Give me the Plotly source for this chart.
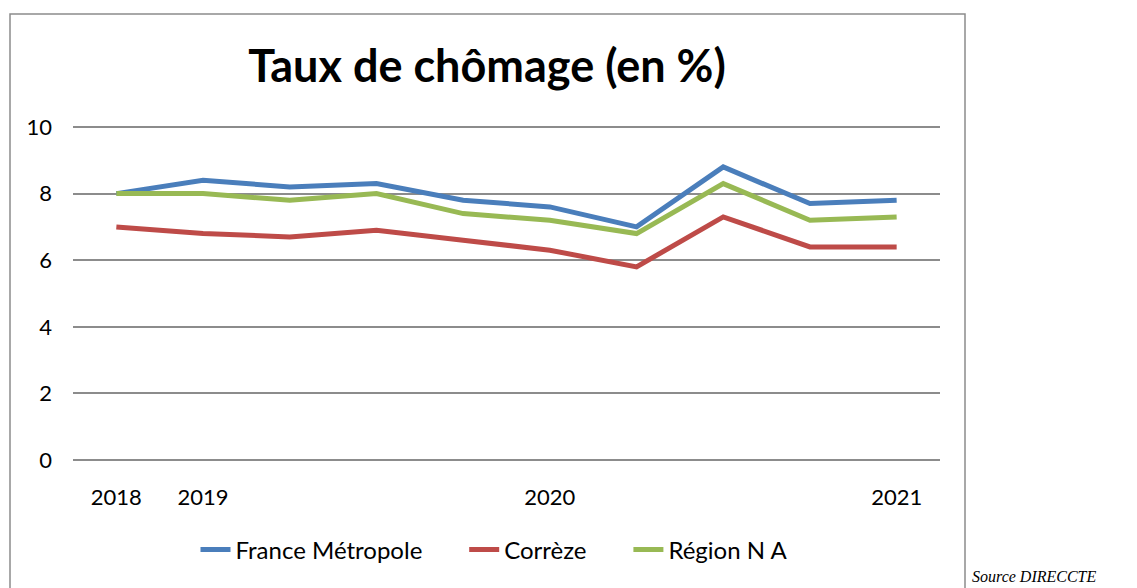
import plotly.graph_objects as go

categories = ["2018", "2019", "", "", "", "2020", "", "", "", "2021"]
france = [8.0, 8.4, 8.2, 8.3, 7.8, 7.6, 7.0, 8.8, 7.7, 7.8]
correze = [7.0, 6.8, 6.7, 6.9, 6.6, 6.3, 5.8, 7.3, 6.4, 6.4]
region = [8.0, 8.0, 7.8, 8.0, 7.4, 7.2, 6.8, 8.3, 7.2, 7.3]
series_names = ["France Métropole", "Corrèze", "Région N A"]
colors = ["#4A7EBB", "#BE4B48", "#98B954"]
y_ticks = [0, 2, 4, 6, 8, 10]

# page body has an 8px margin; work in reference pixels shifted by OFF
OFF = 8
W, H = 1137 - OFF, 588 - OFF
L, R, T, B = 73 - OFF, 940 - OFF, 125 - OFF, 462 - OFF
pw, ph = R - L, B - T
EXT = 0.06  # extend y range a little so 0 and 10 grid lines are drawn

def px(x):
    return (x - OFF - L) / pw

def py(y):
    return (B - (y - OFF)) / ph

PAD = "\u00a0" * 6
xs = list(range(len(categories)))
fig = go.Figure()
for i, (name, vals, c) in enumerate(zip(series_names, [france, correze, region], colors)):
    label = name + (PAD if i < len(series_names) - 1 else "")
    fig.add_trace(go.Scatter(x=xs, y=vals, mode="lines", name=label,
                             line=dict(color=c, width=5)))

font_family = "Lato, Carlito, 'Open Sans', sans-serif"
fig.update_layout(
    width=W, height=H,
    margin=dict(l=L, r=W - R, t=T, b=H - B, pad=0),
    plot_bgcolor="white", paper_bgcolor="white",
    font=dict(family=font_family, size=22, color="black"),
    title=dict(text="<b>Taux de chômage (en %)</b>", xref="paper", x=px(487), xanchor="center",
               y=1 - (66 - OFF) / H, yanchor="middle", font=dict(size=45, family=font_family)),
    xaxis=dict(range=[-0.5, len(categories) - 0.5], tickmode="array", tickvals=xs,
               ticktext=categories, showgrid=False, zeroline=False, showline=False,
               ticks="", ticklabelstandoff=20, tickfont=dict(size=22)),
    yaxis=dict(range=[-EXT, 10 + EXT], tickmode="array", tickvals=y_ticks, showgrid=True,
               gridcolor="#8C8C8C", gridwidth=2, zeroline=False, showline=False,
               ticks="", ticklabelstandoff=20, tickfont=dict(size=22)),
    legend=dict(orientation="h", x=px(494), xanchor="center", y=py(550), yanchor="middle",
                font=dict(size=24), traceorder="normal",
                bgcolor="rgba(0,0,0,0)"),
    showlegend=True,
)
fig.add_shape(type="rect", xref="paper", yref="paper",
              x0=px(10), x1=px(965), y0=py(600), y1=py(14),
              line=dict(color="#8C8C8C", width=1.5), fillcolor="rgba(0,0,0,0)", layer="below")
fig.add_annotation(text="Source DIRECCTE", xref="paper", yref="paper",
                   x=px(970), y=py(576), xanchor="left", yanchor="middle", showarrow=False,
                   font=dict(family="Liberation Serif, serif", size=16, style="italic", color="black"))
fig.write_html("out.html")
